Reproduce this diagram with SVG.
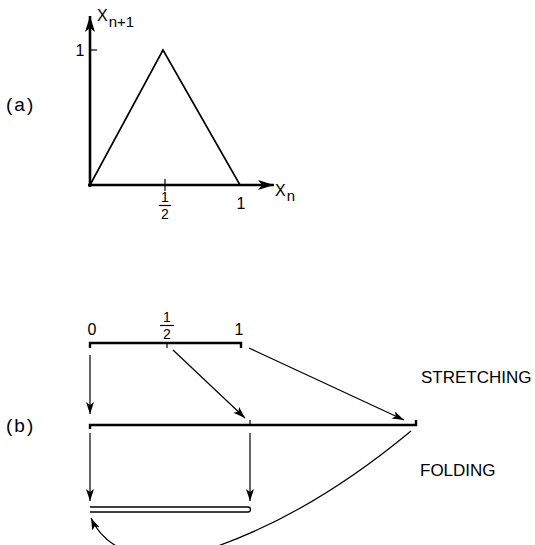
<svg xmlns="http://www.w3.org/2000/svg" width="535" height="545" viewBox="0 0 535 545">
<defs>
<style>
text{font-family:"Liberation Sans","DejaVu Sans",sans-serif;fill:#000}
.lbl{font-size:17px}
.num{font-size:16px}
.frac{font-size:14px}
.pl{font-size:19px;letter-spacing:2px}
.ax{stroke:#000;stroke-width:2.6;fill:none}
.thin{stroke:#000;stroke-width:1.2;fill:none}
.bar{stroke:#000;stroke-width:2.4;fill:none}
</style>
<marker id="ah" viewBox="0 0 12 8" refX="12" refY="4" markerWidth="12" markerHeight="8" markerUnits="userSpaceOnUse" orient="auto">
<path d="M0,0 L12,4 L0,8 L3,4 Z" fill="#000"/>
</marker>
<marker id="ahb" viewBox="0 0 16 10" refX="16" refY="5" markerWidth="16" markerHeight="10" markerUnits="userSpaceOnUse" orient="auto">
<path d="M0,0 L16,5 L0,10 L4,5 Z" fill="#000"/>
</marker>
</defs>
<rect width="535" height="545" fill="#fff"/>

<g id="plot-a">
<text x="6" y="111" class="pl">(a)</text>
<line x1="90" y1="187" x2="90" y2="16" class="ax" marker-end="url(#ahb)"/>
<line x1="88" y1="185" x2="274" y2="185" class="ax" marker-end="url(#ahb)"/>
<line x1="90" y1="50" x2="97" y2="50" class="thin"/>
<line x1="165" y1="179" x2="165" y2="191" class="thin"/>
<polyline points="90,185 163,50 240,185" fill="none" stroke="#000" stroke-width="1.6"/>
<text x="80" y="56" class="num" text-anchor="middle">1</text>
<text x="97" y="21" font-size="16">X<tspan font-size="15" dx="1" dy="6">n+1</tspan></text>
<text x="275" y="196" font-size="16">X<tspan font-size="15" dx="1" dy="5">n</tspan></text>
<text x="241" y="209" class="num" text-anchor="middle">1</text>
<text x="165" y="202" class="frac" text-anchor="middle">1</text>
<line x1="159" y1="205.5" x2="171" y2="205.5" class="thin"/>
<text x="165" y="219" class="frac" text-anchor="middle">2</text>
</g>

<g id="interval-top">
<text x="92" y="335" class="num" text-anchor="middle">0</text>
<text x="167" y="322" class="frac" text-anchor="middle">1</text>
<line x1="160" y1="325.5" x2="174" y2="325.5" class="thin"/>
<text x="167" y="339" class="frac" text-anchor="middle">2</text>
<text x="239" y="335" class="num" text-anchor="middle">1</text>
<polyline points="90,348 90,343 241,343 241,348" class="bar"/>
<line x1="167" y1="343" x2="167" y2="348" class="thin"/>
</g>

<g id="interval-stretched">
<text x="6" y="432" class="pl">(b)</text>
<polyline points="90,429 90,425 416,425 416,420" class="bar"/>
<line x1="250" y1="425" x2="250" y2="420" class="thin"/>
</g>

<g id="interval-folded">
<path d="M90,507 L248,507 A2.5,2.5 0 0 1 248,512 L90,512" fill="none" stroke="#000" stroke-width="1.3"/>
</g>

<g id="labels">
<text x="421" y="383" class="lbl">STRETCHING</text>
<text x="420" y="476" class="lbl">FOLDING</text>
</g>

<g id="connectors">
<line x1="90" y1="355" x2="90" y2="414" class="thin" marker-end="url(#ah)"/>
<line x1="173" y1="350" x2="245" y2="418" class="thin" marker-end="url(#ah)"/>
<line x1="249" y1="348" x2="404" y2="420" class="thin" marker-end="url(#ah)"/>
<line x1="90" y1="433" x2="90" y2="501" class="thin" marker-end="url(#ah)"/>
<line x1="250" y1="433" x2="250" y2="501" class="thin" marker-end="url(#ah)"/>
<path d="M411,431 C340,490 270,530 200,552 C160,566 108,556 91,518" class="thin" marker-end="url(#ah)"/>
</g>
</svg>
